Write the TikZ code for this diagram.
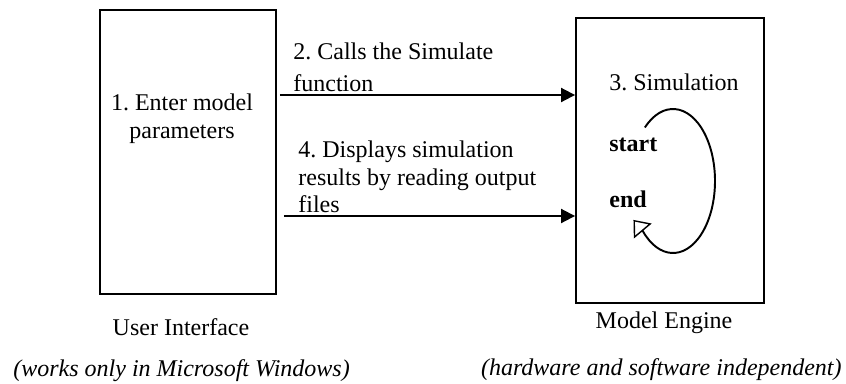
\documentclass[tikz,border=0pt]{standalone}
\usepackage{fontspec}
\setmainfont{Liberation Serif}
\usetikzlibrary{arrows.meta}
\frenchspacing

\begin{document}
\begin{tikzpicture}[x=0.02cm, y=0.02cm,
    every node/.style={font=\fontsize{13.66pt}{15.6pt}\selectfont, inner sep=0pt},
    part/.style={draw, line width=1.1pt},
    call/.style={line width=1.1pt, -{Triangle[length=0.28cm, width=0.28cm]}}]
    \useasboundingbox (0,0) rectangle (846,383);
    % the two programs
    \node[part, minimum width=3.52cm, minimum height=5.68cm] (UI) at (188,231) {};
    \node[part, minimum width=3.76cm, minimum height=5.70cm] (ME) at (670,222.5) {};
    \node[anchor=north, align=center] (ENT) at (182,289.4) {1. Enter model\\parameters};
    \node[anchor=base west] (SIM) at (609,293) {3. Simulation};
    \node[anchor=base west] (ST) at (609,232) {\bfseries start};
    \node[anchor=base west] (EN) at (609,176) {\bfseries end};
    % calls between them
    \coordinate (Y2) at (0,288);
    \coordinate (Y4) at (0,167);
    \node[anchor=north west, align=left] (CALL) at (293,340.1) {2. Calls the Simulate\\[2.1pt]function};
    \node[anchor=north west, align=left] (DISP) at (298,242.4) {4. Displays simulation\\results by reading output\\files};
    \draw[call, shorten <=0.06cm] (UI.east |- Y2) -- (ME.west |- Y2);
    \draw[call, shorten <=0.14cm] (UI.east |- Y4) -- (ME.west |- Y4);
    % simulation loop
    \coordinate (L) at (673,202);
    \draw[line width=1.1pt, -{Triangle[open, length=0.29cm, width=0.46cm, line width=0.8pt]}]
      (L) ++(132:42 and 72) arc[start angle=132, end angle=-136, x radius=42, y radius=72]
      -- ++(130:14.5);
    % captions
    \node[anchor=base] (UIL) at (181,48) {User Interface};
    \node[anchor=base] (MEL) at (664,55) {Model Engine};
    \node[anchor=base west] (WIN) at (13,7) {\itshape (works only in Microsoft Windows)};
    \node[anchor=base east] (IND) at (842,8) {\itshape (hardware and software independent)};
\end{tikzpicture}
\end{document}
